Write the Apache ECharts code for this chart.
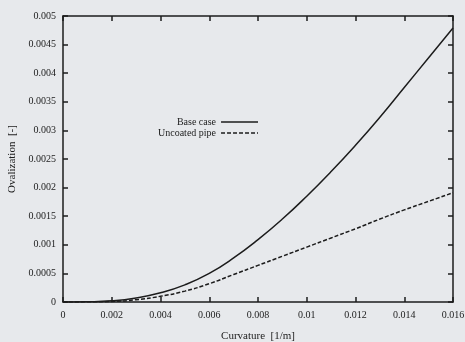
<!DOCTYPE html>
<html>
<head>
<meta charset="utf-8">
<script src="https://cdn.jsdelivr.net/npm/echarts@6/dist/echarts.min.js"></script>
<style>
  html, body { margin: 0; padding: 0; background: #e7e9ec; }
  #chart { width: 465px; height: 342px; }
</style>
</head>
<body>
<div id="chart"></div>
<script>
// Curvature [1/m]
const curvature = [0, 0.001, 0.002, 0.003, 0.004, 0.005, 0.006, 0.007, 0.008,
                   0.009, 0.010, 0.011, 0.012, 0.013, 0.014, 0.015, 0.016];
// Ovalization [-]
const baseCase = [0, 0.000004, 0.00002, 0.00007, 0.00016, 0.0003, 0.0005, 0.00077, 0.00109,
                  0.00145, 0.00185, 0.00228, 0.00274, 0.00323, 0.00375, 0.00427, 0.00479];
const uncoatedPipe = [0, 0.000003, 0.00001, 0.00004, 0.0001, 0.00019, 0.00032, 0.00048, 0.00064,
                      0.0008, 0.00096, 0.00112, 0.00128, 0.00145, 0.00161, 0.00176, 0.00191];

const xTickLabels = ['0', '0.002', '0.004', '0.006', '0.008', '0.01', '0.012', '0.014', '0.016'];
const yTickLabels = ['0', '0.0005', '0.001', '0.0015', '0.002', '0.0025', '0.003', '0.0035', '0.004', '0.0045', '0.005'];

const ink = '#1c1c1c';
const font = 'Liberation Serif';

const pair = (xs, ys) => xs.map((x, i) => [x, ys[i]]);

// every side of the box carries its own line and inward ticks
const frameAxis = () => ({
  axisLine: { show: true, onZero: false, lineStyle: { color: ink, width: 1.5 } },
  axisTick: { show: true, inside: true, length: 5, lineStyle: { color: ink, width: 1.5 } },
  splitLine: { show: false }
});

const dashIcon = 'path://M0,0 L4,0 L4,1.5 L0,1.5 Z M6,0 L10,0 L10,1.5 L6,1.5 Z M12,0 L16,0 L16,1.5 L12,1.5 Z '
  + 'M18,0 L22,0 L22,1.5 L18,1.5 Z M24,0 L28,0 L28,1.5 L24,1.5 Z M30,0 L34,0 L34,1.5 L30,1.5 Z M36,0 L37,0 L37,1.5 L36,1.5 Z';

const chart = echarts.init(document.getElementById('chart'), null, { renderer: 'canvas' });
chart.setOption({
  backgroundColor: '#e7e9ec',
  animation: false,
  grid: { left: 63, right: 12, top: 16, bottom: 40, containLabel: false, outerBoundsMode: 'none' },
  legend: {
    orient: 'vertical',
    left: 153,
    top: 112,
    align: 'right',
    itemWidth: 37,
    itemHeight: 2,
    itemGap: 1,
    textStyle: { fontFamily: font, fontSize: 10, color: ink, padding: [0, 0, 0, 0] },
    data: [
      { name: 'Base case', icon: 'path://M0,0 L37,0 L37,1.5 L0,1.5 Z' },
      { name: 'Uncoated pipe', icon: dashIcon }
    ]
  },
  xAxis: [
    Object.assign({
      type: 'value', min: 0, max: 0.016, interval: 0.002,
      name: 'Curvature  [1/m]', nameLocation: 'middle', nameGap: 29,
      nameTextStyle: { fontFamily: font, fontSize: 11, color: ink },
      axisLabel: {
        fontFamily: font, fontSize: 10, color: ink, margin: 8,
        formatter: v => xTickLabels[Math.round(v / 0.002)]
      }
    }, frameAxis()),
    Object.assign({
      type: 'value', min: 0, max: 0.016, interval: 0.002, position: 'top',
      axisLabel: { show: false }
    }, frameAxis())
  ],
  yAxis: [
    Object.assign({
      type: 'value', min: 0, max: 0.005, interval: 0.0005,
      name: 'Ovalization  [-]', nameLocation: 'middle', nameGap: 44, nameRotate: 90,
      nameTextStyle: { fontFamily: font, fontSize: 11, color: ink },
      axisLabel: {
        fontFamily: font, fontSize: 10, color: ink, margin: 7,
        formatter: v => yTickLabels[Math.round(v / 0.0005)]
      }
    }, frameAxis()),
    Object.assign({
      type: 'value', min: 0, max: 0.005, interval: 0.0005, position: 'right',
      axisLabel: { show: false }
    }, frameAxis())
  ],
  series: [
    {
      name: 'Base case', type: 'line', smooth: true, showSymbol: false, symbol: 'none',
      itemStyle: { color: ink },
      lineStyle: { color: ink, width: 1.5 },
      data: pair(curvature, baseCase)
    },
    {
      name: 'Uncoated pipe', type: 'line', smooth: true, showSymbol: false, symbol: 'none',
      itemStyle: { color: ink },
      lineStyle: { color: ink, width: 1.5, type: [4, 2] },
      data: pair(curvature, uncoatedPipe)
    }
  ]
});
</script>
</body>
</html>
